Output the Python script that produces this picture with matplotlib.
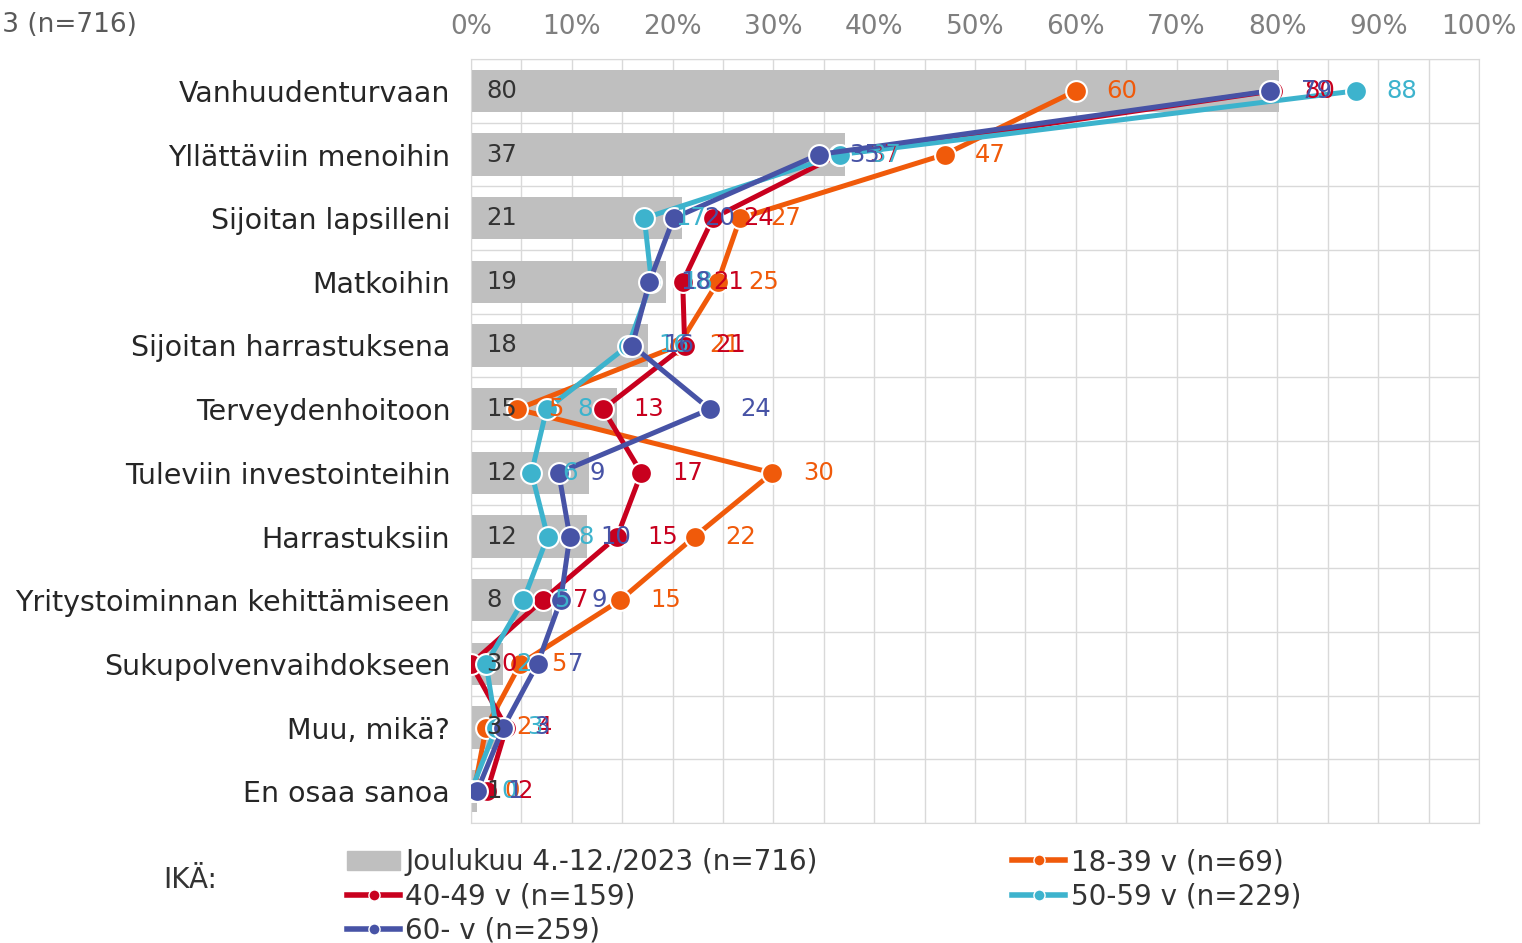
import numpy as np
import matplotlib
matplotlib.use("Agg")
import matplotlib.pyplot as plt
from matplotlib.lines import Line2D
from matplotlib.patches import Patch
from matplotlib.ticker import MultipleLocator, FuncFormatter

categories = ["Vanhuudenturvaan", "Yllättäviin menoihin", "Sijoitan lapsilleni",
              "Matkoihin", "Sijoitan harrastuksena", "Terveydenhoitoon",
              "Tuleviin investointeihin", "Harrastuksiin",
              "Yritystoiminnan kehittämiseen", "Sukupolvenvaihdokseen",
              "Muu, mikä?", "En osaa sanoa"]
total = [80.2, 37.1, 20.9, 19.3, 17.6, 14.5, 11.7, 11.5, 8.0, 3.2, 2.9, 0.6]
age_18_39 = [60, 47, 26.7, 24.5, 20.6, 4.6, 29.9, 22.2, 14.8, 4.9, 1.5, 0.3]
age_40_49 = [79.6, 36.5, 24, 21, 21.2, 13.1, 16.9, 14.5, 7.1, 0, 3.5, 1.6]
age_50_59 = [87.8, 36.6, 17.2, 17.9, 15.6, 7.5, 6.0, 7.6, 5.2, 1.5, 2.5, 0]
age_60 = [79.3, 34.5, 20.1, 17.7, 16, 23.7, 8.7, 9.8, 8.9, 6.6, 3.2, 0.6]

total_label = "Joulukuu 4.-12./2023 (n=716)"
series = [
    ("18-39 v (n=69)", age_18_39, "#F05A0A"),
    ("40-49 v (n=159)", age_40_49, "#C8001E"),
    ("50-59 v (n=229)", age_50_59, "#3DB3CD"),
    ("60- v (n=259)", age_60, "#4753A6"),
]

def rnd(v):
    return str(int(np.floor(v + 0.5)))

plt.rcParams['font.family'] = ['DejaVu Sans']
fig = plt.figure(figsize=(15.22, 9.43), dpi=100)
ax = fig.add_axes([471/1522, 1-823/943, 1008/1522, 764/943])

y = np.arange(len(categories))
ax.barh(y, total, height=0.66, color="#BFBFBF", zorder=2)
for yi, v in zip(y, total):
    ax.annotate(rnd(v), (0, yi), xytext=(11, 0), textcoords="offset points",
                ha="left", va="center", fontsize=17.5, color="#333333", zorder=10)

for i, (name, vals, col) in enumerate(series):
    ax.plot(vals, y, color=col, lw=3.6, marker="o", markersize=15,
            markeredgecolor="white", markeredgewidth=1.5, zorder=4 + i,
            solid_joinstyle="round")
for i, (name, vals, col) in enumerate(series):
    for yi, v in zip(y, vals):
        ax.annotate(rnd(v), (v, yi), xytext=(22, 0), textcoords="offset points",
                    ha="left", va="center", fontsize=17.5, color=col, zorder=10)

ax.set_xlim(0, 100)
ax.set_ylim(len(categories) - 0.5, -0.5)
ax.set_yticks(y)
ax.set_yticklabels(categories, fontsize=20.5, color="#262626")
ax.xaxis.tick_top()
ax.xaxis.set_major_locator(MultipleLocator(10))
ax.xaxis.set_major_formatter(FuncFormatter(lambda v, p: f"{int(v)}%"))
ax.xaxis.set_minor_locator(MultipleLocator(5))
ax.tick_params(axis="x", which="both", length=0, pad=14, labelsize=19, labelcolor="#7F7F7F")
ax.set_yticks(np.arange(len(categories) + 1) - 0.5, minor=True)
ax.tick_params(axis="y", which="both", length=0, pad=15)
ax.grid(True, which="both", axis="x", color="#D9D9D9", lw=1, zorder=0)
ax.grid(True, which="minor", axis="y", color="#D9D9D9", lw=1, zorder=0)
for s in ax.spines.values():
    s.set_color("#D9D9D9")
ax.set_axisbelow(True)

fig.text(137/1522, 1-25/943, total_label, ha="right", va="center",
         fontsize=19, color="#595959")

handles = [Patch(color="#BFBFBF", label=total_label)]
hmap = {n: Line2D([], [], color=c, lw=4, marker="o", markersize=8,
                  markeredgecolor="white", markeredgewidth=1, label=n)
        for n, v, c in series}
handles += [hmap["40-49 v (n=159)"], hmap["60- v (n=259)"],
            hmap["18-39 v (n=69)"], hmap["50-59 v (n=229)"]]
leg = fig.legend(handles=handles, ncol=2, loc="upper left",
                 bbox_to_anchor=(336/1522, 1-837/943), frameon=False,
                 fontsize=20, handlelength=1.9, handletextpad=0.2,
                 columnspacing=7.0, labelspacing=0.22, borderaxespad=0)
for t in leg.get_texts():
    t.set_color("#333333")
fig.text(190/1522, 1-880/943, "IKÄ:", ha="center", va="center",
         fontsize=20, color="#333333")

fig.savefig("out.png", dpi=100)
